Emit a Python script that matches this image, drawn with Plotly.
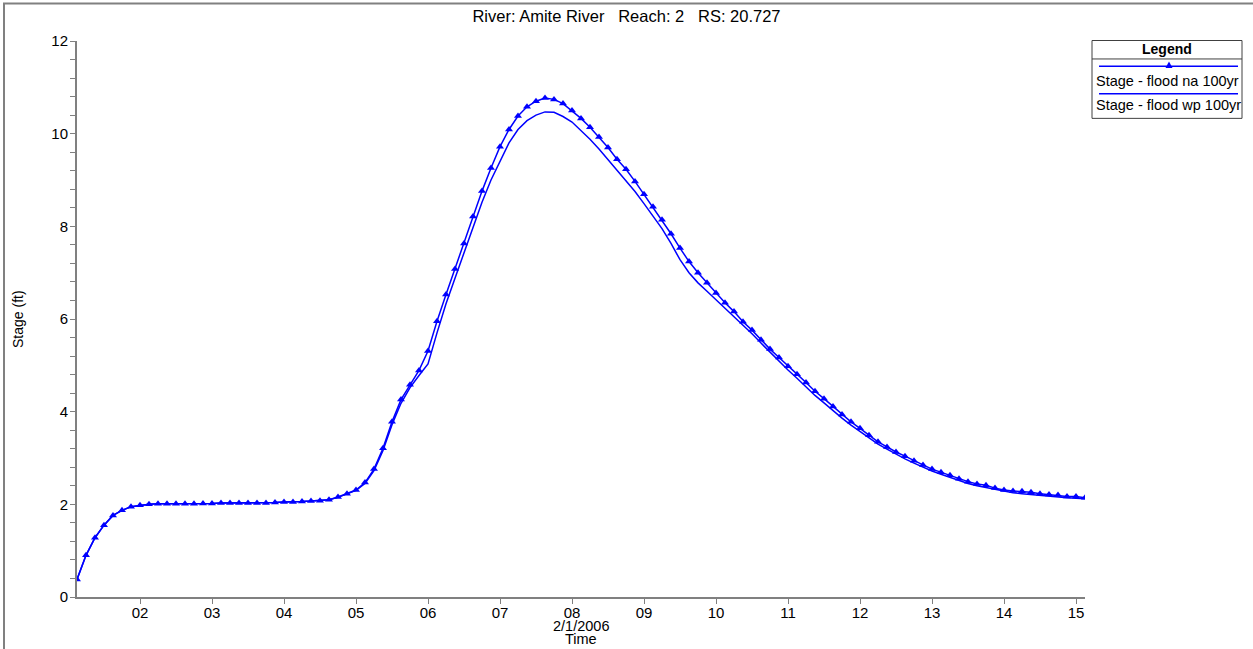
import pandas as pd
import plotly.graph_objects as go

# ---- data ----
times = pd.date_range("2006-02-01 03:00", "2006-02-15 03:00", freq="3h")

stage_na = [
    0.38, 0.90, 1.28, 1.55, 1.76, 1.87, 1.95,
    1.98, 2.00, 2.01, 2.01, 2.01, 2.01, 2.01, 2.02,
    2.02, 2.03, 2.03, 2.03, 2.03, 2.03, 2.03, 2.04,
    2.05, 2.05, 2.06, 2.07, 2.08, 2.10, 2.16, 2.23,
    2.31, 2.47, 2.76, 3.21, 3.78, 4.26, 4.58, 4.89,
    5.31, 5.95, 6.53, 7.08, 7.63, 8.21, 8.76, 9.26,
    9.72, 10.09, 10.38, 10.58, 10.70, 10.77, 10.74, 10.65,
    10.50, 10.33, 10.14, 9.93, 9.70, 9.45, 9.23, 8.97,
    8.69, 8.42, 8.14, 7.84, 7.53, 7.24, 7.00, 6.78,
    6.56, 6.35, 6.16, 5.94, 5.76, 5.55, 5.35, 5.17,
    4.98, 4.81, 4.63, 4.44, 4.28, 4.11, 3.94, 3.78,
    3.64, 3.49, 3.35, 3.24, 3.13, 3.04, 2.94, 2.85,
    2.76, 2.69, 2.63, 2.55, 2.49, 2.44, 2.41, 2.35,
    2.31, 2.29, 2.28, 2.26, 2.23, 2.21, 2.20, 2.17,
    2.17, 2.14,
]

stage_wp = [
    0.38, 0.90, 1.28, 1.55, 1.76, 1.87, 1.95,
    1.98, 2.00, 2.01, 2.01, 2.01, 2.01, 2.01, 2.02,
    2.02, 2.03, 2.03, 2.03, 2.03, 2.03, 2.03, 2.04,
    2.05, 2.05, 2.06, 2.07, 2.08, 2.10, 2.15, 2.22,
    2.30, 2.45, 2.73, 3.16, 3.72, 4.18, 4.52, 4.78,
    5.03, 5.70, 6.33, 6.88, 7.43, 7.98, 8.52, 9.00,
    9.40, 9.80, 10.09, 10.28, 10.40, 10.47, 10.46, 10.37,
    10.25, 10.07, 9.88, 9.67, 9.44, 9.21, 8.98, 8.75,
    8.49, 8.23, 7.95, 7.63, 7.28, 7.00, 6.78, 6.60,
    6.42, 6.24, 6.05, 5.86, 5.68, 5.48, 5.28, 5.09,
    4.90, 4.72, 4.53, 4.35, 4.19, 4.02, 3.86, 3.71,
    3.57, 3.43, 3.30, 3.19, 3.08, 2.98, 2.89, 2.80,
    2.72, 2.65, 2.58, 2.51, 2.45, 2.40, 2.36, 2.32,
    2.28, 2.25, 2.23, 2.21, 2.19, 2.17, 2.15, 2.14,
    2.13, 2.12,
]

series_names = ["Stage - flood na 100yr", "Stage - flood wp 100yr"]
title_text = "River: Amite River&nbsp;&nbsp; Reach: 2&nbsp;&nbsp; RS: 20.727"
x_title_lines = ["2/1/2006", "Time"]
y_title = "Stage (ft)"

# ---- layout geometry (pixels) ----
W, H = 1253, 649
L, R, T, B = 77, 1085, 40.5, 597.5
FONT = "Liberation Sans, Arial, sans-serif"
BLUE = "#0000FF"
GRAY = "#808080"


def px(xp):
    return (xp - L) / (R - L)


def py(yp):
    return (B - yp) / (B - T)


fig = go.Figure()
fig.add_trace(go.Scatter(
    x=times, y=stage_na, mode="lines+markers", name=series_names[0],
    line=dict(color=BLUE, width=1.5),
    marker=dict(symbol="triangle-up", size=7, color=BLUE),
))
fig.add_trace(go.Scatter(
    x=times, y=stage_wp, mode="lines", name=series_names[1],
    line=dict(color=BLUE, width=1.5),
))

fig.update_layout(
    width=W, height=H,
    margin=dict(l=L, r=W - R, t=T, b=H - B, pad=0),
    paper_bgcolor="white", plot_bgcolor="white",
    showlegend=False,
    font=dict(family=FONT, size=15, color="black"),
    title=dict(text=title_text, x=0.5, xref="container", xanchor="center",
               y=1 - 16 / H, yref="container", yanchor="middle",
               font=dict(family=FONT, size=16.5, color="black")),
)

fig.update_xaxes(
    type="date",
    range=[times[0], times[-1]],
    tick0="2006-02-02", dtick=86400000, tickformat="%d",
    showgrid=False, zeroline=False,
    showline=True, linecolor=GRAY, linewidth=2,
    ticks="outside", ticklen=5, tickcolor=GRAY, tickwidth=1,
    ticklabelstandoff=-4,
    tickfont=dict(family=FONT, size=15, color="black"),
)
fig.update_yaxes(
    range=[0, 12], dtick=2, tick0=0,
    showgrid=False, zeroline=False,
    showline=True, linecolor=GRAY, linewidth=2,
    ticks="outside", ticklen=5, tickcolor=GRAY, tickwidth=1,
    ticklabelstandoff=-1,
    tickfont=dict(family=FONT, size=15, color="black"),
    minor=dict(dtick=0.4, tick0=0, ticks="outside", ticklen=5,
               tickcolor=GRAY, tickwidth=1, showgrid=False),
)

# axis titles
fig.add_annotation(text=x_title_lines[0], xref="paper", yref="paper",
                   x=0.5, y=0, yshift=-28.5, showarrow=False,
                   xanchor="center", yanchor="middle",
                   font=dict(family=FONT, size=14.5))
fig.add_annotation(text=x_title_lines[1], xref="paper", yref="paper",
                   x=0.5, y=0, yshift=-41.5, showarrow=False,
                   xanchor="center", yanchor="middle",
                   font=dict(family=FONT, size=14.5))
fig.add_annotation(text=y_title, xref="paper", yref="paper",
                   x=px(18), y=0.5, showarrow=False, textangle=-90,
                   xanchor="center", yanchor="middle",
                   font=dict(family=FONT, size=14))

# figure border (left and top)
fig.add_shape(type="line", xref="paper", yref="paper",
              x0=px(4), x1=px(4), y0=py(3), y1=py(H + 2),
              line=dict(color=GRAY, width=2))
fig.add_shape(type="line", xref="paper", yref="paper",
              x0=px(3), x1=px(W + 2), y0=py(3), y1=py(3),
              line=dict(color=GRAY, width=2))

# custom legend box
LX0, LX1, LY0, LY1 = 1092, 1242, 40, 118
fig.add_shape(type="rect", xref="paper", yref="paper",
              x0=px(LX0), x1=px(LX1), y0=py(LY0), y1=py(LY1),
              line=dict(color="#404040", width=1), fillcolor="white", layer="above")
fig.add_shape(type="line", xref="paper", yref="paper",
              x0=px(LX0), x1=px(LX1), y0=py(58.5), y1=py(58.5),
              line=dict(color="#404040", width=1), layer="above")
fig.add_annotation(text="<b>Legend</b>", xref="paper", yref="paper",
                   x=px((LX0 + LX1) / 2), y=py(48.5), showarrow=False,
                   xanchor="center", yanchor="middle",
                   font=dict(family=FONT, size=14))
for i, (ly, ty) in enumerate([(65.7, 80.5), (93.3, 105)]):
    fig.add_shape(type="line", xref="paper", yref="paper",
                  x0=px(1099), x1=px(1238), y0=py(ly), y1=py(ly),
                  line=dict(color=BLUE, width=1.5), layer="above")
    fig.add_annotation(text=series_names[i], xref="paper", yref="paper",
                       x=px(1094), y=py(ty), showarrow=False,
                       xanchor="left", yanchor="middle",
                       font=dict(family=FONT, size=14.5))
# legend triangle marker for first series
cx, cy = 1169, 64.5
tri = "M {} {} L {} {} L {} {} Z".format(
    px(cx - 3.5), py(cy + 3), px(cx + 3.5), py(cy + 3), px(cx), py(cy - 3.5))
fig.add_shape(type="path", xref="paper", yref="paper", path=tri,
              fillcolor=BLUE, line=dict(color=BLUE, width=0), layer="above")

fig.write_html("out.html")
